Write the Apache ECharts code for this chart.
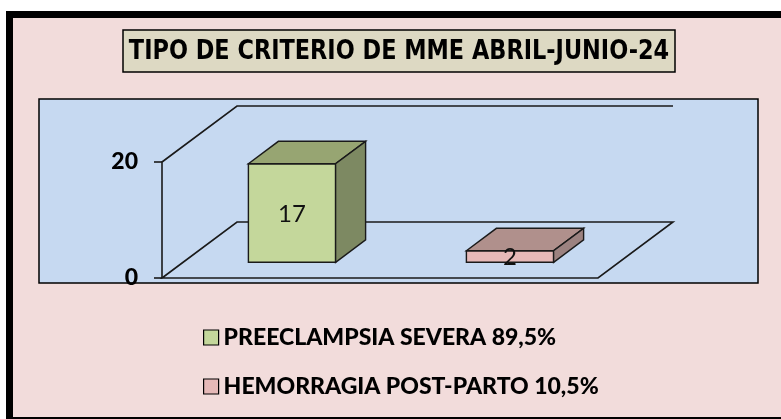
<!DOCTYPE html>
<html>
<head>
<meta charset="utf-8">
<script src="https://cdn.jsdelivr.net/npm/echarts@6/dist/echarts.min.js"></script>
<style>
  html, body { margin: 0; padding: 0; background: #ffffff; }
  #chart { width: 781px; height: 419px; }
</style>
</head>
<body>
<div id="chart"></div>
<script>
// datos del grafico
const categories = ['PREECLAMPSIA SEVERA', 'HEMORRAGIA POST-PARTO'];
const counts = [17, 2];
const shares = ['89,5%', '10,5%'];
const yTicks = [0, 20];
const chartTitle = 'TIPO DE CRITERIO DE MME ABRIL-JUNIO-24';

// colores de cada barra: frente, techo, lado
const faceColors = [
    { front: '#C4D79B', top: '#97A572', side: '#7D8962' },
    { front: '#E6B9B8', top: '#B0908C', side: '#9C8280' }
];
const lineColor = '#1a1a1a';

// perspectiva 3D (en pixeles)
const DX = 75, DY = -56;
const F0 = 0.28, F1 = 0.68;

const myChart = echarts.init(document.getElementById('chart'));

function renderFrame(params, api) {
    const cs = params.coordSys;
    const yTop = api.coord([0, yTicks[yTicks.length - 1]])[1];
    const yBot = api.coord([0, yTicks[0]])[1];
    const x = cs.x, w = cs.width;
    return {
        type: 'group',
        children: [
            {
                type: 'polyline',
                shape: { points: [[x, yTop], [x + DX, yTop + DY], [x + w + DX, yTop + DY]] },
                style: { stroke: lineColor, lineWidth: 1.6, fill: null }
            },
            {
                type: 'polygon',
                shape: { points: [[x, yBot], [x + DX, yBot + DY], [x + w + DX, yBot + DY], [x + w, yBot]] },
                style: { stroke: lineColor, lineWidth: 1.6, fill: null }
            }
        ]
    };
}

function renderBar(params, api) {
    const idx = api.value(0), val = api.value(1);
    const base = api.coord([idx, 0]);
    const top = api.coord([idx, val]);
    const bw = api.size([1, 0])[0] * 0.4;
    const x0 = base[0] - bw / 2 + DX * F0, x1 = x0 + bw;
    const yb = base[1] + DY * F0, yt = top[1] + DY * F0;
    const ddx = DX * (F1 - F0), ddy = DY * (F1 - F0);
    const c = faceColors[idx];
    const st = { stroke: lineColor, lineWidth: 1.4 };
    return {
        type: 'group',
        children: [
            { type: 'polygon', shape: { points: [[x0, yb], [x1, yb], [x1, yt], [x0, yt]] },
              style: Object.assign({ fill: c.front }, st) },
            { type: 'polygon', shape: { points: [[x0, yt], [x1, yt], [x1 + ddx, yt + ddy], [x0 + ddx, yt + ddy]] },
              style: Object.assign({ fill: c.top }, st) },
            { type: 'polygon', shape: { points: [[x1, yb], [x1 + ddx, yb + ddy], [x1 + ddx, yt + ddy], [x1, yt]] },
              style: Object.assign({ fill: c.side }, st) },
            { type: 'text',
              style: { text: String(val), x: (x0 + x1) / 2, y: (yb + yt) / 2 + 1,
                       align: 'center', verticalAlign: 'middle',
                       font: '24px Lato, "Open Sans", sans-serif', fill: '#111' } }
        ]
    };
}

const barSeries = categories.map(function (name, i) {
    return {
        name: name + ' ' + shares[i],
        type: 'custom',
        renderItem: renderBar,
        data: [[i, counts[i]]],
        itemStyle: { color: faceColors[i].front },
        z: 5,
        silent: true
    };
});

const option = {
    animation: false,
    backgroundColor: '#ffffff',
    graphic: [
        { type: 'rect', shape: { x: 9.5, y: 14.5, width: 800, height: 406 },
          style: { fill: '#F2DCDB', stroke: '#000', lineWidth: 7 }, z: -10 },
        { type: 'rect', shape: { x: 123, y: 30, width: 552, height: 42 },
          style: { fill: '#DDD9C3', stroke: '#000', lineWidth: 1.5 }, z: -9 },
        { type: 'rect', shape: { x: 39, y: 99, width: 719, height: 184 },
          style: { fill: '#C6D9F1', stroke: '#000', lineWidth: 1.5 }, z: -9 },
        { type: 'text', x: 399, y: 52, scaleX: 0.83, scaleY: 1, z: 10,
          style: { text: chartTitle, align: 'center', verticalAlign: 'middle',
                   font: 'bold 27px "DejaVu Sans", sans-serif', fill: '#000' } }
    ],
    legend: {
        orient: 'vertical',
        left: 203,
        top: 326,
        padding: 0,
        itemGap: 26,
        itemWidth: 15,
        itemHeight: 15,
        icon: 'rect',
        selectedMode: false,
        itemStyle: { borderColor: '#000', borderWidth: 1.2 },
        textStyle: {
            fontFamily: 'Lato, "Open Sans", sans-serif',
            fontWeight: 900,
            fontSize: 23,
            color: '#000',
            padding: [0, 0, 0, 0]
        },
        data: barSeries.map(function (s) { return s.name; })
    },
    grid: { left: 162, top: 162, width: 436, height: 116 },
    xAxis: {
        type: 'category',
        data: categories,
        show: false
    },
    yAxis: {
        type: 'value',
        min: yTicks[0],
        max: yTicks[yTicks.length - 1],
        interval: 20,
        axisLine: { show: true, lineStyle: { color: lineColor, width: 1.6 } },
        axisTick: { show: true, length: 8, lineStyle: { color: lineColor, width: 1.6 } },
        splitLine: { show: false },
        axisLabel: {
            margin: 24,
            fontFamily: 'Lato, "Open Sans", sans-serif',
            fontWeight: 900,
            fontSize: 23,
            color: '#000'
        }
    },
    series: [{
        type: 'custom',
        renderItem: renderFrame,
        data: [[0, 0]],
        silent: true,
        z: 1
    }].concat(barSeries)
};

myChart.setOption(option);
window.addEventListener('resize', function () { myChart.resize(); });
</script>
</body>
</html>
